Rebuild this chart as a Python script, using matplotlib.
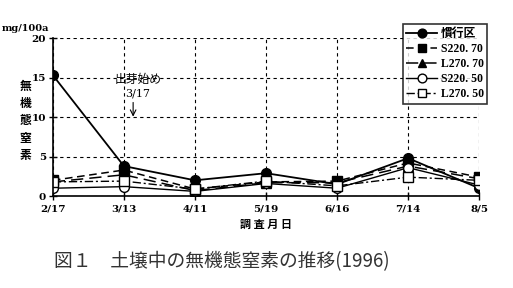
import matplotlib
matplotlib.use("Agg")
import matplotlib.pyplot as plt

plt.rcParams["font.family"] = ["Noto Sans CJK JP", "DejaVu Sans"]

# 調査月日と各区の無機態窒素 (mg/100a)
dates = ["2/17", "3/13", "4/11", "5/19", "6/16", "7/14", "8/5"]
kanko = [15.3, 3.8, 2.0, 2.9, 1.5, 4.8, 1.0]
s220_70 = [2.0, 3.3, 0.9, 1.8, 1.9, 4.2, 2.4]
l270_70 = [1.8, 2.7, 0.7, 1.7, 1.7, 3.8, 2.2]
s220_50 = [1.0, 1.2, 0.6, 1.6, 1.0, 3.6, 1.4]
l270_50 = [1.8, 1.9, 0.9, 1.9, 1.3, 2.4, 2.0]
series_names = ["慣行区", "S220. 70", "L270. 70", "S220. 50", "L270. 50"]
yticks = [0, 5, 10, 15, 20]

fig = plt.figure(figsize=(5.13, 2.88), dpi=100)
ax = fig.add_axes([0.103, 0.319, 0.831, 0.549])

x = list(range(len(dates)))
styles = [
    dict(ls="-", marker="o", mfc="black", ms=7, lw=1.3),
    dict(ls=(0, (5, 3)), marker="s", mfc="black", ms=7, lw=1.1),
    dict(ls=(0, (8, 4)), marker="^", mfc="black", ms=7, lw=1.1),
    dict(ls="-", marker="o", mfc="white", ms=7, lw=1.0),
    dict(ls=(0, (6, 2, 1.5, 2)), marker="s", mfc="white", ms=7, lw=1.0),
]
handles = []
for vals, name, st in zip([kanko, s220_70, l270_70, s220_50, l270_50], series_names, styles):
    h, = ax.plot(x, vals, color="black", mec="black", label=name, **st)
    handles.append(h)

ax.set_xlim(0, len(dates) - 1)
ax.set_ylim(0, 20)
ax.set_xticks(x)
ax.set_xticklabels(dates)
ax.set_yticks(yticks)
for lab in ax.get_xticklabels() + ax.get_yticklabels():
    lab.set_family("DejaVu Serif")
    lab.set_fontweight("bold")
    lab.set_fontsize(7.5)
ax.tick_params(axis="x", direction="inout", length=6, width=1, pad=3)
ax.tick_params(axis="y", direction="inout", length=6, width=1, pad=2)
ax.grid(True, ls=(0, (3, 3)), color="black", lw=0.8)
ax.spines["top"].set_visible(False)
ax.spines["right"].set_visible(False)
ax.spines["left"].set_linewidth(1.2)
ax.spines["bottom"].set_linewidth(1.2)
ax.set_axisbelow(True)

# 出芽始めの注記
ax.text(1.2, 14.8, "出芽始め", ha="center", va="center", fontsize=8.5)
ax.text(1.2, 13.0, "3/17", ha="center", va="center", fontsize=8, family="DejaVu Serif")
ax.annotate("", xy=(1.13, 9.7), xytext=(1.13, 12.2),
            arrowprops=dict(arrowstyle="->", color="black", lw=0.8))

leg = fig.legend(handles=handles, loc="upper right", bbox_to_anchor=(0.95, 0.918),
                 borderaxespad=0, fontsize=8.5, frameon=True, fancybox=False,
                 edgecolor="black", handlelength=2.6, labelspacing=0.25, borderpad=0.3,
                 handletextpad=0.3, markerscale=0.9)
leg.get_frame().set_linewidth(1.2)
leg.get_texts()[0].set_fontweight("bold")
for t in leg.get_texts()[1:]:
    t.set_family("Liberation Serif")
    t.set_fontweight("bold")

fig.text(0.049, 0.9, "mg/100a", fontsize=7, family="DejaVu Serif", fontweight="bold",
         ha="center", va="center")
fig.text(0.049, 0.58, "無\n機\n態\n窒\n素", fontsize=8.5, fontweight="bold",
         ha="center", va="center", linespacing=1.45)
fig.text(0.519, 0.222, "調 査 月 日", fontsize=8, fontweight="bold", ha="center", va="center")
fig.text(0.105, 0.09, "図１　土壌中の無機態窒素の推移(1996)", fontsize=13.5,
         ha="left", va="center", color="#333333")

fig.savefig("out.png", dpi=100)
